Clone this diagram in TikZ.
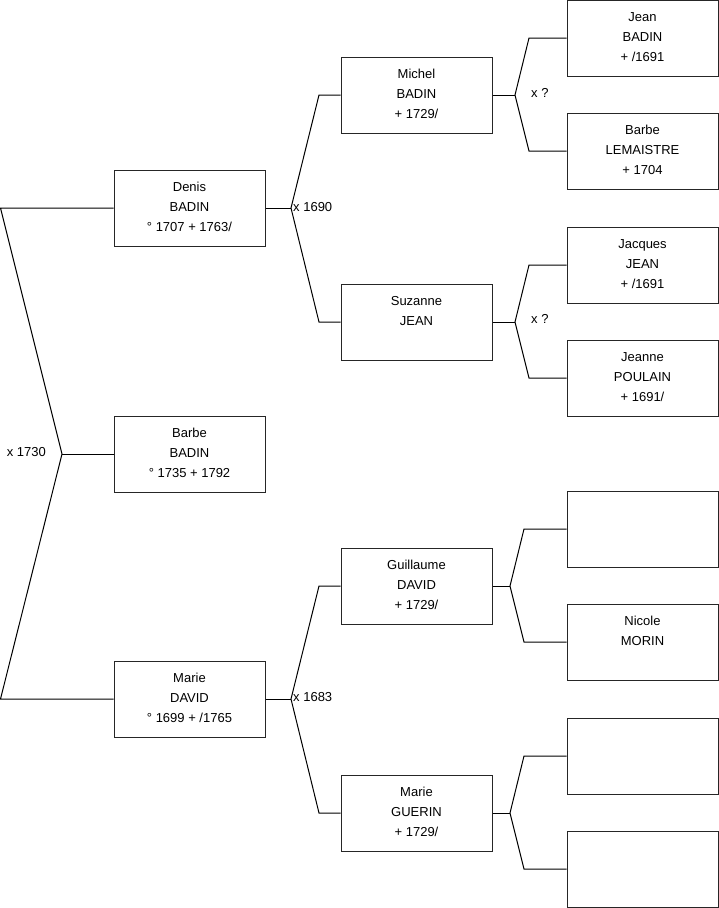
\documentclass[tikz,border=0pt]{standalone}
\usepackage{fontspec}
\setmainfont{Liberation Sans}

\newcommand{\who}[1]{\parbox[c][76pt][t]{151pt}{\centering\vspace*{7.3pt}\strut#1}}

\begin{document}
\begin{tikzpicture}[
	x=1pt, y=-1pt,
	font=\fontsize{13}{20}\selectfont,
	p/.style = {rectangle, draw=black!85, line width=1pt, inner sep=0, minimum width=151, minimum height=76},
	l/.style = {draw=black, line width=1pt},
	m/.style = {inner sep=0}
	]
	
	\useasboundingbox (0, 0) rectangle (719, 908);
	
	% === === === Nodes === === ===
	\node[p]	(0-0)	at	(189.5, 454)	{\who{Barbe\\BADIN\\° 1735 + 1792}};
	
	\node[p]	(1-0)	at	(189.5, 208)	{\who{Denis\\BADIN\\° 1707 + 1763/}};
	\node[p]	(1-1)	at	(189.5, 699)	{\who{Marie\\DAVID\\° 1699 + /1765}};
	
	\node[p]	(2-0)	at	(416.5, 95)		{\who{Michel\\BADIN\\+ 1729/}};
	\node[p]	(2-1)	at	(416.5, 322)	{\who{Suzanne\\JEAN}};
	\node[p]	(2-2)	at	(416.5, 586)	{\who{Guillaume\\DAVID\\+ 1729/}};
	\node[p]	(2-3)	at	(416.5, 813)	{\who{Marie\\GUERIN\\+ 1729/}};
	
	\node[p]	(3-0)	at	(642.5, 38)		{\who{Jean\\BADIN\\+ /1691}};
	\node[p]	(3-1)	at	(642.5, 151)	{\who{Barbe\\LEMAISTRE\\+ 1704}};
	\node[p]	(3-2)	at	(642.5, 265)	{\who{Jacques\\JEAN\\+ /1691}};
	\node[p]	(3-3)	at	(642.5, 378)	{\who{Jeanne\\POULAIN\\+ 1691/}};
	\node[p]	(3-4)	at	(642.5, 529)	{};
	\node[p]	(3-5)	at	(642.5, 642)	{\who{Nicole\\MORIN}};
	\node[p]	(3-6)	at	(642.5, 756)	{};
	\node[p]	(3-7)	at	(642.5, 869)	{};
	
	
	
	% === === === Forks === === ===
	\coordinate (f-0)	at (62, 454);
	\coordinate (f-0a)	at (0.5, 208);
	\coordinate (f-0b)	at (0.5, 699);
	
	\coordinate (f-1)	at (291, 208);
	\coordinate (f-1a)	at (319, 95);
	\coordinate (f-1b)	at (319, 322);
	
	\coordinate (f-2)	at (291, 699);
	\coordinate (f-2a)	at (319, 586);
	\coordinate (f-2b)	at (319, 813);
	
	\coordinate (f-3)	at (515, 95);
	\coordinate (f-3a)	at (529, 38);
	\coordinate (f-3b)	at (529, 151);
	
	\coordinate (f-4)	at (515, 322);
	\coordinate (f-4a)	at (529, 265);
	\coordinate (f-4b)	at (529, 378);
	
	\coordinate (f-5)	at (510, 586);
	\coordinate (f-5a)	at (524, 529);
	\coordinate (f-5b)	at (524, 642);
	
	\coordinate (f-6)	at (510, 813);
	\coordinate (f-6a)	at (524, 756);
	\coordinate (f-6b)	at (524, 869);
	
	
	
	% === === === Lines === === ===
	\draw[l] (1-0.west) -- (f-0a) -- (f-0) -- (f-0b) -- (1-1.west);
	\draw[l] (f-0) -- (0-0.west);
	
	\draw[l] (1-0.east) -- (f-1);
	\draw[l] (2-0.west) -- (f-1a) -- (f-1) -- (f-1b) -- (2-1.west);
	
	\draw[l] (1-1.east) -- (f-2);
	\draw[l] (2-2.west) -- (f-2a) -- (f-2) -- (f-2b) -- (2-3.west);
	
	\draw[l] (2-0.east) -- (f-3);
	\draw[l] (3-0.west) -- (f-3a) -- (f-3) -- (f-3b) -- (3-1.west);
	
	\draw[l] (2-1.east) -- (f-4);
	\draw[l] (3-2.west) -- (f-4a) -- (f-4) -- (f-4b) -- (3-3.west);
	
	\draw[l] (2-2.east) -- (f-5);
	\draw[l] (3-4.west) -- (f-5a) -- (f-5) -- (f-5b) -- (3-5.west);
	
	\draw[l] (2-3.east) -- (f-6);
	\draw[l] (3-6.west) -- (f-6a) -- (f-6) -- (f-6b) -- (3-7.west);
	
	
	
	% === === === Marriages === === ===
	\node[m, anchor=east]	(x-0)	at (46, 452)	{x 1730};
	\node[m, anchor=west]	(x-1)	at (293, 207)	{x 1690};
	\node[m, anchor=west]	(x-2)	at (293, 697)	{x 1683};
	\node[m, anchor=west]	(x-3)	at (531, 93)	{x ?};
	\node[m, anchor=west]	(x-4)	at (531, 319)	{x ?};
	
\end{tikzpicture}
\end{document}
